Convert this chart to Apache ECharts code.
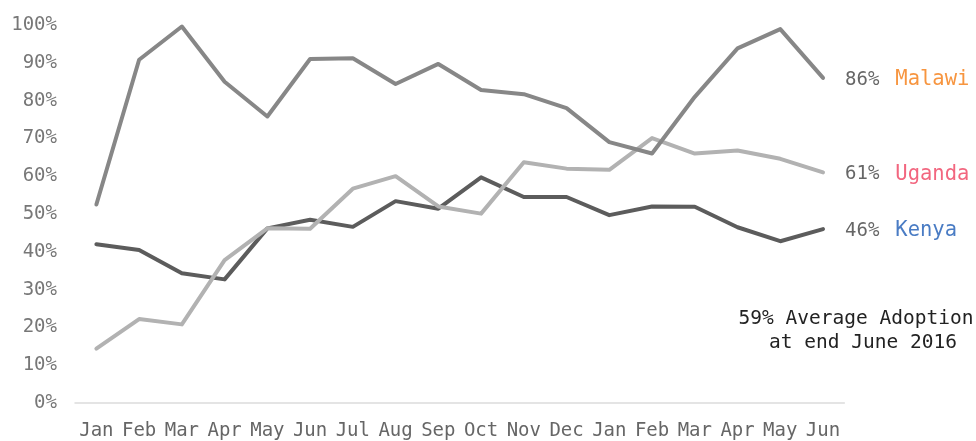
<!DOCTYPE html>
<html>
<head>
<meta charset="utf-8">
<script src="https://cdn.jsdelivr.net/npm/echarts@6/dist/echarts.min.js"></script>
<style>
html,body{margin:0;padding:0;background:#fff;}
#chart{width:976px;height:441px;}
</style>
</head>
<body>
<div id="chart"></div>
<script>
var months = ['Jan','Feb','Mar','Apr','May','Jun','Jul','Aug','Sep','Oct','Nov','Dec','Jan','Feb','Mar','Apr','May','Jun'];
var yTicks = [0,10,20,30,40,50,60,70,80,90,100];
var malawi = [52.5,90.8,99.6,85,75.8,91,91.2,84.4,89.7,82.8,81.7,78,69,66,81,93.8,98.9,86];
var uganda = [14.4,22.2,20.8,37.8,46.2,46.1,56.7,60,52,50.1,63.7,62,61.7,70.1,66,66.8,64.6,61];
var kenya  = [42,40.5,34.3,32.7,46.2,48.5,46.6,53.4,51.4,59.7,54.5,54.5,49.7,52,51.9,46.5,42.8,46];
var seriesNames = ['Malawi','Uganda','Kenya'];
var endValues = ['86%','61%','46%'];
var annotation = ['59% Average Adoption','at end June 2016'];

var FONT = '"DejaVu Sans Mono", monospace';
var lineColors = ['#878787','#b2b2b2','#5c5c5c'];
var nameColors = ['#f7953f','#f2667f','#4a7cc4'];
var data = [malawi, uganda, kenya];

var chart = echarts.init(document.getElementById('chart'));
var series = data.map(function(d, i){
  return {
    type:'line', name: seriesNames[i], data: d, symbol:'none', z: 3 - i,
    lineStyle:{width:4, color: lineColors[i], cap:'round', join:'round'},
    endLabel:{
      show:true, distance: 22, offset:[0,2],
      formatter: function(){ return '{p|' + endValues[i] + '}{n|' + seriesNames[i] + '}'; },
      rich:{
        p:{fontFamily:FONT, fontSize:19, color:'#666'},
        n:{fontFamily:FONT, fontSize:20.5, color:nameColors[i], padding:[0,0,0,16]}
      }
    },
    emphasis:{disabled:true}
  };
});

chart.setOption({
  animation:false,
  grid:{left:75, right:131.6, top:25, bottom:37},
  xAxis:{
    type:'category', data: months, boundaryGap:true,
    axisLine:{show:true, lineStyle:{color:'#dcdcdc', width:1.5}},
    axisTick:{show:false},
    axisLabel:{fontFamily:FONT, fontSize:19, color:'#666', margin:19, interval:0}
  },
  yAxis:{
    type:'value', min: yTicks[0], max: yTicks[yTicks.length-1], interval: 10,
    splitLine:{show:false}, axisLine:{show:false}, axisTick:{show:false},
    axisLabel:{fontFamily:FONT, fontSize:19, color:'#777', margin:18, formatter:'{value}%'}
  },
  series: series,
  graphic:[
    {type:'text', x:856, y:319, style:{text:annotation[0], font:'19.5px ' + FONT, fill:'#222', textAlign:'center', textVerticalAlign:'middle'}},
    {type:'text', x:863, y:343, style:{text:annotation[1], font:'19.5px ' + FONT, fill:'#222', textAlign:'center', textVerticalAlign:'middle'}}
  ]
});
</script>
</body>
</html>
